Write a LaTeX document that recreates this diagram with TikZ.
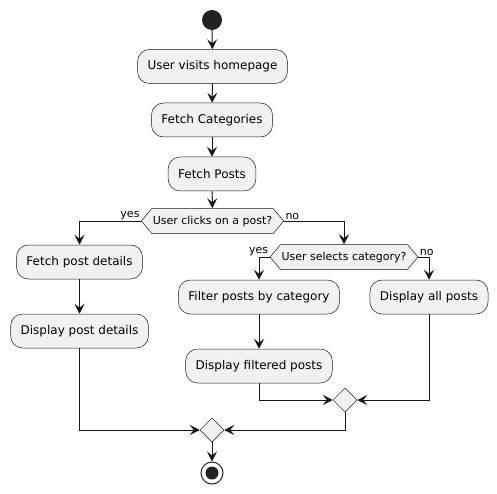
\documentclass[tikz,border=0pt]{standalone}
\usepackage{fontspec}
\setmainfont{DejaVu Sans}
\usetikzlibrary{arrows.meta,shapes.geometric,shapes.symbols}
\definecolor{umlfill}{HTML}{F1F1F1}
\definecolor{umlline}{HTML}{181818}
\definecolor{umldot}{HTML}{222222}

\begin{document}
\begin{tikzpicture}[x=1pt,y=1pt,
        act/.style={draw=umlline,fill=umlfill,line width=0.5pt,rounded corners=12pt,minimum height=34pt,inner xsep=10pt,font=\fontsize{12}{14}\selectfont},
        ask/.style={shape=signal,signal to=west and east,signal pointer angle=100,draw=umlline,fill=umlfill,line width=0.5pt,minimum height=25pt,inner xsep=1pt,font=\fontsize{11}{13}\selectfont},
        merge/.style={diamond,draw=umlline,fill=umlfill,line width=0.5pt,minimum width=24pt,minimum height=24pt,inner sep=0pt},
        flow/.style={draw=umlline,line width=1pt,-{Stealth[length=10pt,width=10pt,inset=4pt]}},
        lbl/.style={font=\fontsize{11}{13}\selectfont,inner sep=1pt}]
        \useasboundingbox (0,0) rectangle (497,-494);
        \node[circle,fill=umldot,minimum size=20pt,inner sep=0pt] (start) at (212,-20) {};
        \node[act] (visit) at (212.5,-66.5) {User visits homepage};
        \node[act] (cats) at (212,-120) {Fetch Categories};
        \node[act] (posts) at (212,-174) {Fetch Posts};
        \node[ask] (click) at (212.5,-221) {User clicks on a post?};
        \node[act] (fetchd) at (79.5,-262) {Fetch post details};
        \node[act] (showd) at (79.5,-331) {Display post details};
        \node[ask] (pick) at (344,-257) {User selects category?};
        \node[act] (filter) at (259,-297) {Filter posts by category};
        \node[act] (showf) at (259,-366) {Display filtered posts};
        \node[act] (showall) at (429,-297) {Display all posts};
        \node[merge] (m2) at (345,-400) {};
        \node[merge] (m1) at (212,-430) {};
        \node[circle,draw=umldot,line width=1pt,minimum size=22pt,inner sep=0pt] (stop) at (212,-473) {};
        \fill[umldot] (stop.center) circle (6.5);

        \draw[flow] (start) -- (visit);
        \draw[flow] (visit) -- (cats);
        \draw[flow] (cats) -- (posts);
        \draw[flow] (posts) -- (click);
        \draw[flow] (click.west) -| (fetchd.north) node[pos=0,lbl,above left]{yes};
        \draw[flow] (click.east) -| (pick.north) node[pos=0,lbl,above right]{no};
        \draw[flow] (fetchd) -- (showd);
        \draw[flow] (pick.west) -| (filter.north) node[pos=0,lbl,above left]{yes};
        \draw[flow] (pick.east) -| (showall.north) node[pos=0,lbl,above right]{no};
        \draw[flow] (filter) -- (showf);
        \draw[flow] (showf.south) |- (m2.west);
        \draw[flow] (showall.south) |- (m2.east);
        \draw[flow] (showd.south) |- (m1.west);
        \draw[flow] (m2.south) |- (m1.east);
        \draw[flow] (m1) -- (stop);
    \end{tikzpicture}
\end{document}
